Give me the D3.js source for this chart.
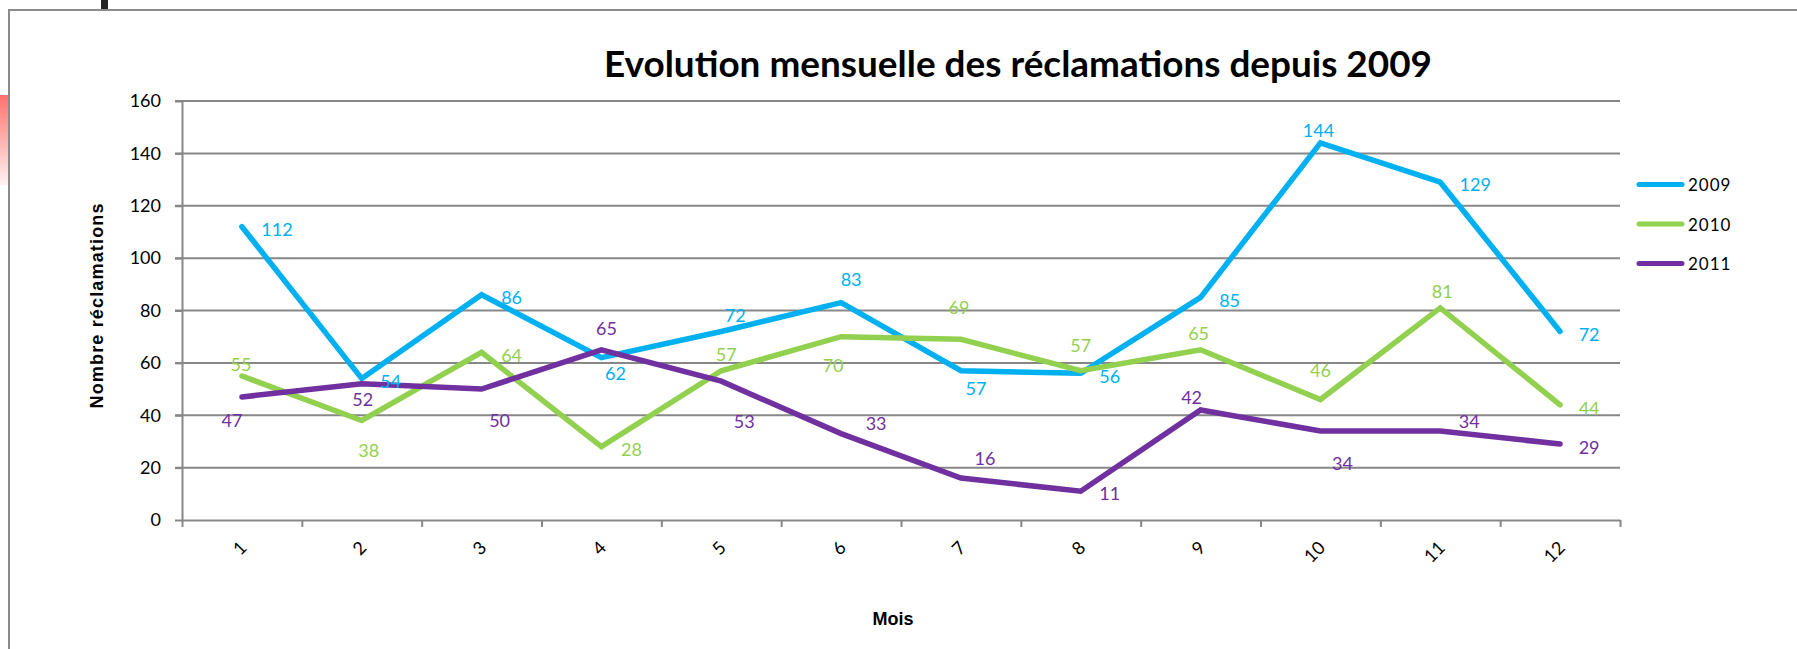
<!DOCTYPE html>
<html>
<head>
<meta charset="utf-8">
<script src="https://cdn.jsdelivr.net/npm/d3@7"></script>
<style>
  body { margin: 0; background: #fff; }
  svg { display: block; }
  .axis text { font-family: Lato, "Open Sans", sans-serif; font-size: 18px; fill: #000; }
  .axis path, .axis line { stroke: #878787; stroke-width: 2; }
</style>
</head>
<body>
<svg id="chart" width="1797" height="649"></svg>
<script>
// chart data
const months = ["1", "2", "3", "4", "5", "6", "7", "8", "9", "10", "11", "12"];
const values2009 = [112, 54, 86, 62, 72, 83, 57, 56, 85, 144, 129, 72];
const values2010 = [55, 38, 64, 28, 57, 70, 69, 57, 65, 46, 81, 44];
const values2011 = [47, 52, 50, 65, 53, 33, 16, 11, 42, 34, 34, 29];
const yTicks = [0, 20, 40, 60, 80, 100, 120, 140, 160];
const seriesNames = ["2009", "2010", "2011"];
const seriesColors = ["#00b0f0", "#92d050", "#7030a0"];

// where each data label sits relative to its point (dx, dy of the label centre)
const labelPos2009 = [[35, 2], [29, 2], [30, 2], [14, 15], [14, -16], [10, -24], [15, 17], [29, 3], [29, 3], [-2, -13], [35, 2], [29, 3]];
const labelPos2010 = [[-1, -12], [7, 30], [30, 3], [30, 2], [5, -17], [-8, 28], [-2, -32], [0, -26], [-2, -17], [0, -30], [2, -17], [29, 3]];
const labelPos2011 = [[-10, 23], [1, 15], [18, 31], [5, -22], [23, 40], [35, -11], [24, -20], [29, 2], [-9, -13], [22, 32], [29, -10], [29, 3]];

const series = [
  { name: seriesNames[0], values: values2009, color: seriesColors[0], labels: labelPos2009 },
  { name: seriesNames[1], values: values2010, color: seriesColors[1], labels: labelPos2010 },
  { name: seriesNames[2], values: values2011, color: seriesColors[2], labels: labelPos2011 }
];

const svg = d3.select("#chart");
const plotLeft = 182, plotRight = 1620, plotTop = 101, plotBottom = 520;

const x = d3.scaleBand().domain(months).range([plotLeft, plotRight]).padding(0);
const xc = (m) => x(m) + x.bandwidth() / 2;
const y = d3.scaleLinear().domain([0, 160]).range([plotBottom, plotTop]);

// screenshot leftovers: frame, black tab, pink strip
const grad = svg.append("defs").append("linearGradient")
  .attr("id", "pink").attr("x1", 0).attr("y1", 0).attr("x2", 0).attr("y2", 1);
grad.append("stop").attr("offset", "0%").attr("stop-color", "#ff716b");
grad.append("stop").attr("offset", "100%").attr("stop-color", "#fff2f2");
svg.append("rect").attr("x", 0).attr("y", 95).attr("width", 8).attr("height", 90).attr("fill", "url(#pink)");
svg.append("rect").attr("x", 101).attr("y", 0).attr("width", 7).attr("height", 9).attr("fill", "#222");
svg.append("path").attr("d", "M9,649 L9,10 L1797,10")
  .attr("fill", "none").attr("stroke", "#8c8c8c").attr("stroke-width", 2);

// gridlines
svg.append("g").selectAll("line")
  .data(yTicks.filter((d) => d > 0))
  .join("line")
  .attr("x1", plotLeft - 7).attr("x2", plotRight)
  .attr("y1", (d) => y(d)).attr("y2", (d) => y(d))
  .attr("stroke", "#878787").attr("stroke-width", 2);

// y axis
svg.append("g")
  .attr("class", "axis")
  .attr("transform", `translate(${plotLeft},0)`)
  .call(d3.axisLeft(y).tickValues(yTicks).tickSize(7).tickSizeOuter(0).tickPadding(14));

// x axis: tick marks between categories
const xb = d3.scaleLinear().domain([0, months.length]).range([plotLeft, plotRight]);
svg.append("g")
  .attr("class", "axis")
  .attr("transform", `translate(0,${plotBottom})`)
  .call(d3.axisBottom(xb).tickValues(d3.range(months.length + 1)).tickSize(7).tickSizeOuter(0).tickFormat(""));

svg.append("g").attr("class", "axis").selectAll("text")
  .data(months)
  .join("text")
  .attr("transform", (d) => `translate(${xc(d) + 1},544) rotate(-45)`)
  .attr("text-anchor", "end")
  .attr("dominant-baseline", "central")
  .text((d) => d);

// lines
const line = d3.line()
  .x((d, i) => xc(months[i]))
  .y((d) => y(d));

svg.append("g").selectAll("path")
  .data(series)
  .join("path")
  .attr("d", (s) => line(s.values))
  .attr("fill", "none")
  .attr("stroke", (s) => s.color)
  .attr("stroke-width", 5.5)
  .attr("stroke-linecap", "round")
  .attr("stroke-linejoin", "miter");

// data labels
series.forEach((s) => {
  svg.append("g").selectAll("text")
    .data(s.values)
    .join("text")
    .attr("x", (d, i) => xc(months[i]) + s.labels[i][0])
    .attr("y", (d, i) => y(d) + s.labels[i][1])
    .attr("text-anchor", "middle")
    .attr("dominant-baseline", "central")
    .attr("font-family", "Lato, 'Open Sans', sans-serif")
    .attr("font-size", 18)
    .attr("fill", s.color)
    .text((d) => d);
});

// legend
const legend = svg.append("g").selectAll("g")
  .data(series)
  .join("g")
  .attr("transform", (d, i) => `translate(1637,${184.5 + i * 39.5})`);
legend.append("line")
  .attr("x1", 2).attr("x2", 45)
  .attr("stroke", (d) => d.color)
  .attr("stroke-width", 5)
  .attr("stroke-linecap", "round");
legend.append("text")
  .attr("x", 51)
  .attr("dominant-baseline", "central")
  .attr("font-family", "Lato, 'Open Sans', sans-serif")
  .attr("font-size", 17)
  .attr("letter-spacing", 1)
  .text((d) => d.name);

// titles
svg.append("text")
  .attr("x", 1018).attr("y", 77)
  .attr("text-anchor", "middle")
  .attr("font-family", "Lato, sans-serif")
  .attr("font-weight", "bold")
  .attr("font-size", 37)
  .attr("textLength", 828)
  .attr("lengthAdjust", "spacingAndGlyphs")
  .text("Evolution mensuelle des réclamations depuis 2009");

svg.append("text")
  .attr("transform", "translate(103,306) rotate(-90)")
  .attr("text-anchor", "middle")
  .attr("font-family", "'Liberation Sans', Arial, sans-serif")
  .attr("font-weight", "bold")
  .attr("font-size", 18)
  .attr("textLength", 205)
  .text("Nombre réclamations");

svg.append("text")
  .attr("x", 893).attr("y", 625)
  .attr("text-anchor", "middle")
  .attr("font-family", "'Liberation Sans', Arial, sans-serif")
  .attr("font-weight", "bold")
  .attr("font-size", 18)
  .text("Mois");
</script>
</body>
</html>
